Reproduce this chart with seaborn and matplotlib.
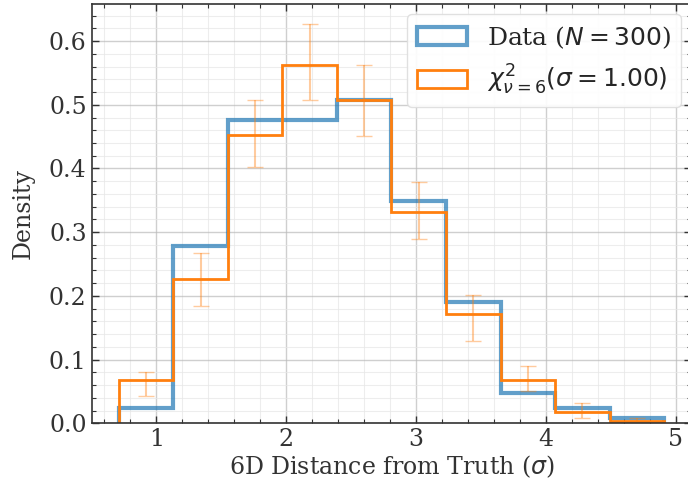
import numpy as np
import matplotlib
matplotlib.use("Agg")
import matplotlib.pyplot as plt
import seaborn as sns
from matplotlib.ticker import AutoMinorLocator

# bin edges (sigma) and values
bin_edges = [0.71, 1.13, 1.55, 1.97, 2.39, 2.81, 3.23, 3.65, 4.07, 4.49, 4.91]
data_counts = [3, 35, 60, 60, 64, 44, 24, 6, 3, 1]
chi2_density = [0.068, 0.227, 0.452, 0.563, 0.507, 0.332, 0.172, 0.068, 0.018, 0.004]
err_center = [0.062, 0.2255, 0.4545, 0.567, 0.5065, 0.3335, 0.1655, 0.070, 0.0205, 0.006]
err_half = [0.019, 0.0415, 0.0525, 0.060, 0.0555, 0.0445, 0.0365, 0.020, 0.0115, 0.003]
n_total = 300
dof = 6
sigma = 1.00

sns.set_theme(style="whitegrid")
plt.rcParams["font.family"] = ["DejaVu Serif"]
plt.rcParams["mathtext.fontset"] = "dejavusans"

edges = np.array(bin_edges)
centers = 0.5 * (edges[:-1] + edges[1:])

fig = plt.figure(figsize=(6.88, 4.91), dpi=100)
ax = fig.add_axes([0.133, 0.138, 0.872, 0.854])
ax.set_facecolor("white")

ax.hist(centers, bins=edges, weights=data_counts, density=True, histtype="step",
        color="tab:blue", alpha=0.7, lw=3, label=rf"Data ($N = {n_total}$)")
ax.hist(centers, bins=edges, weights=chi2_density, histtype="step",
        color="tab:orange", lw=2,
        label=rf"$\chi^2_{{\nu={dof}}}(\sigma = {sigma:.2f})$")
ax.errorbar(centers, err_center, yerr=err_half, fmt="none", ecolor="tab:orange",
            alpha=0.4, capsize=6, elinewidth=1.5)

ax.set_ylim(bottom=0)
ax.xaxis.set_minor_locator(AutoMinorLocator())
ax.yaxis.set_minor_locator(AutoMinorLocator())
ax.tick_params(which="both", direction="in", top=True, right=True,
               bottom=True, left=True, colors="#333333", labelsize=17)
ax.tick_params(which="major", length=5, width=1)
ax.tick_params(which="minor", length=3, width=0.8)
ax.grid(which="major", color="#bbbbbb", lw=1, alpha=0.7)
ax.grid(which="minor", color="#e6e6e6", lw=0.8, alpha=0.7)
for s in ax.spines.values():
    s.set_color("#333333")
    s.set_linewidth(1.2)

ax.set_xlabel(r"6D Distance from Truth ($\sigma$)", fontsize=17, color="#333333",
              labelpad=2)
ax.set_ylabel("Density", fontsize=17, color="#333333", labelpad=10)
ax.legend(loc="upper right", fontsize=18, frameon=True, framealpha=0.9,
          edgecolor="#dddddd", borderaxespad=0.4)

fig.savefig("out.png", dpi=100)
